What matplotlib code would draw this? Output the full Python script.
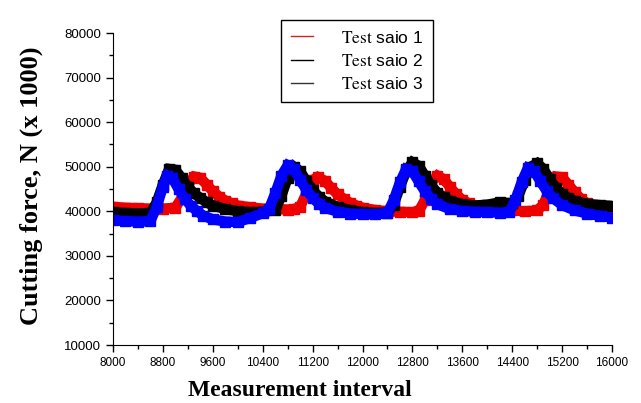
import matplotlib
matplotlib.use('Agg')
import matplotlib.pyplot as plt
from matplotlib.lines import Line2D
from matplotlib.ticker import MultipleLocator

plt.rcParams['mathtext.fontset'] = 'stix'

# Test saio 1 (red)
x1 = [8000, 8200, 8400, 8600, 8800, 9000, 9100, 9200, 9300, 9400, 9500, 9600, 9700, 9800, 9900,
      10000, 10200, 10400, 10600, 10800, 10900, 11000, 11100, 11200, 11280, 11400, 11500, 11600,
      11700, 11800, 11900, 12000, 12200, 12400, 12600, 12800, 12900, 13000, 13100, 13200, 13300,
      13400, 13500, 13600, 13700, 13800, 14000, 14200, 14400, 14600, 14800, 14900, 15000, 15100,
      15200, 15300, 15400, 15500, 15600, 15700, 15800, 16000]
y1 = [41000, 40800, 40700, 40600, 40600, 40800, 43000, 46000, 47800, 47500, 46000, 44500, 43300,
      42400, 41800, 41300, 40900, 40600, 40500, 40400, 40500, 41000, 44000, 47000, 47700, 46800,
      45200, 43800, 42800, 41900, 41300, 40800, 40300, 40000, 39900, 39800, 40000, 42500, 46500,
      48000, 47200, 45500, 43800, 42600, 41800, 41200, 40600, 40300, 40200, 40000, 40200, 41500,
      45000, 47800, 47600, 46000, 44300, 42800, 41800, 41000, 40400, 39600]

# Test saio 2 (black)
x2 = [8000, 8200, 8400, 8600, 8700, 8800, 8900, 9000, 9100, 9200, 9300, 9400, 9500, 9600, 9800,
      10000, 10200, 10400, 10600, 10700, 10800, 10900, 11000, 11100, 11200, 11300, 11400, 11600,
      11800, 12000, 12200, 12400, 12500, 12600, 12700, 12800, 12900, 13000, 13100, 13200, 13300,
      13400, 13600, 13800, 14000, 14200, 14400, 14500, 14600, 14700, 14800, 14900, 15000, 15100,
      15200, 15300, 15400, 15600, 15800, 16000]
y2 = [39800, 39600, 39500, 39600, 42000, 46000, 49500, 49300, 47500, 45500, 44000, 43000, 42000,
      41300, 40500, 40000, 39800, 39900, 40200, 43500, 47500, 50000, 49000, 46800, 44800, 43300,
      42200, 41000, 40300, 39800, 39600, 39700, 41500, 45500, 49000, 51000, 50200, 48000, 45800,
      44200, 43200, 42400, 41600, 41300, 41500, 42000, 41800, 43500, 47000, 50000, 50800, 49500,
      47200, 45300, 43900, 43000, 42300, 41700, 41400, 41200]

# Test saio 3 (blue)
x3 = [8000, 8200, 8400, 8600, 8700, 8800, 8870, 8950, 9050, 9150, 9250, 9350, 9450, 9600, 9800,
      10000, 10200, 10400, 10500, 10600, 10700, 10800, 10900, 11000, 11100, 11200, 11300, 11400,
      11600, 11800, 12000, 12200, 12400, 12500, 12600, 12700, 12800, 12900, 13000, 13100, 13200,
      13400, 13600, 13800, 14000, 14200, 14350, 14450, 14550, 14650, 14750, 14850, 14950, 15050,
      15200, 15400, 15600, 15800, 16000]
y3 = [38000, 37800, 37700, 37800, 41000, 45500, 48000, 47500, 45000, 42800, 41200, 40000, 39000,
      38200, 37700, 37600, 38500, 39600, 40500, 44000, 48000, 50300, 49500, 47000, 44800, 43000,
      41700, 40800, 39900, 39500, 39400, 39300, 39600, 42500, 46500, 49500, 49000, 46700, 44500,
      42800, 41600, 40500, 40100, 39900, 39800, 39700, 39800, 42500, 46500, 49700, 49000, 46800,
      44600, 43000, 41400, 40200, 39500, 39000, 38600]

labels = [r'$\mathrm{Test}$ saio 1', r'$\mathrm{Test}$ saio 2', r'$\mathrm{Test}$ saio 3']
colors = ['#ee0000', '#000000', '#0000ff']

fig = plt.figure(figsize=(6.41, 4.03), dpi=100)
ax = fig.add_axes([0.1763, 0.1439, 0.7785, 0.7741])

for xs, ys, c in zip([x1, x2, x3], [y1, y2, y3], colors):
    ax.plot(xs, ys, color=c, lw=7.5, marker='s', markersize=7, solid_joinstyle='miter')

ax.set_xlim(8000, 16000)
ax.set_ylim(10000, 80000)
ax.xaxis.set_major_locator(MultipleLocator(800))
ax.xaxis.set_minor_locator(MultipleLocator(400))
ax.yaxis.set_major_locator(MultipleLocator(10000))
ax.yaxis.set_minor_locator(MultipleLocator(5000))
ax.spines['top'].set_visible(False)
ax.spines['right'].set_visible(False)
ax.tick_params(which='major', direction='out', length=5, width=1)
ax.tick_params(which='minor', direction='out', length=3, width=1)
for t in ax.get_xticklabels():
    t.set_fontfamily('Liberation Sans')
    t.set_fontsize(8.5)
for t in ax.get_yticklabels():
    t.set_fontfamily('Liberation Sans')
    t.set_fontsize(9.5)

ax.set_xlabel('Measurement interval', fontsize=17, fontweight='bold',
              fontfamily='Liberation Serif')
ax.set_ylabel('Cutting force, N (x 1000)', fontsize=19, fontweight='bold',
              fontfamily='Liberation Serif')
ax.xaxis.set_label_coords(0.375, -0.112)
ax.yaxis.set_label_coords(-0.14, 0.51)

handles = [Line2D([], [], color=c, lw=1) for c in ['#cc2222', '#000000', '#333333']]
leg = fig.legend(handles, labels, loc='upper center', bbox_to_anchor=(0.557, 0.972),
                 fancybox=False, edgecolor='black', framealpha=1, borderpad=0.55,
                 handlelength=1.3, handletextpad=1.6, labelspacing=0.42,
                 prop={'family': 'Liberation Sans', 'size': 12.5})
leg.get_frame().set_linewidth(1)

fig.savefig('out.png', dpi=100)
